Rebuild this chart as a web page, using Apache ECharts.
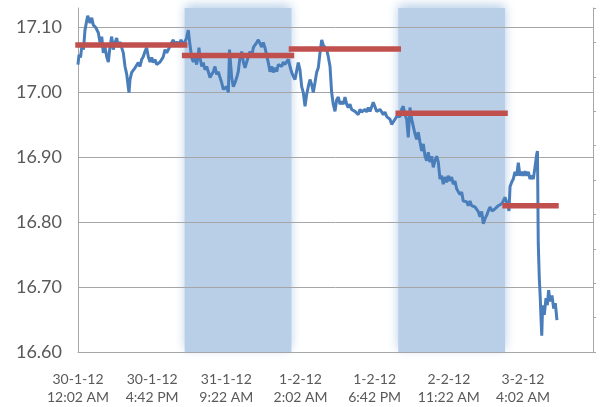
<!DOCTYPE html>
<html>
<head>
<meta charset="utf-8">
<script src="https://cdn.jsdelivr.net/npm/echarts@6/dist/echarts.min.js"></script>
<style>
html,body{margin:0;padding:0;background:#fff;}
#chart{width:603px;height:407px;}
</style>
</head>
<body>
<div id="chart"></div>
<script>
// x = minutes since 30-1-12 12:02 AM (one category per minute)
const tickDates = ["30-1-12", "30-1-12", "31-1-12", "1-2-12", "1-2-12", "2-2-12", "3-2-12"];
const tickTimes = ["12:02 AM", "4:42 PM", "9:22 AM", "2:02 AM", "6:42 PM", "11:22 AM", "4:02 AM"];
const tickStep = 1000;
const axisEndMinute = 6944;

// trading days (minute index of start/end), shading and daily average
const dayStart = [0, 1438, 2878, 4318, 5758];
const dayEnd = [1438, 2878, 4318, 5758, 6445];
const dayShaded = [0, 1, 0, 1, 0];
const dailyAvg = [17.072, 17.056, 17.066, 16.967, 16.825];

// price line
const priceMinutes = [0,13,34,54,74,94,115,131,148,162,185,206,239,274,297,320,341,364,387,409,431,454,476,499,522,543,566,589,611,634,657,678,688,701,724,746,769,791,813,836,859,880,903,926,948,971,994,1015,1038,1061,1083,1106,1129,1150,1173,1196,1218,1241,1263,1285,1308,1335,1362,1389,1416,1443,1463,1487,1510,1533,1555,1578,1600,1622,1631,1645,1668,1689,1712,1735,1757,1780,1803,1825,1847,1870,1892,1915,1938,1959,1982,2005,2027,2043,2072,2094,2117,2140,2161,2184,2207,2229,2252,2275,2296,2319,2342,2364,2386,2409,2431,2454,2477,2498,2521,2544,2566,2589,2611,2633,2656,2679,2701,2724,2746,2768,2791,2814,2835,2858,2881,2903,2926,2949,2970,2993,3016,3038,3061,3083,3105,3128,3151,3173,3195,3218,3240,3263,3286,3307,3330,3353,3375,3398,3420,3442,3465,3488,3510,3533,3555,3577,3600,3623,3644,3667,3690,3712,3735,3758,3779,3802,3825,3847,3869,3892,3914,3937,3960,3981,4004,4027,4049,4072,4095,4116,4139,4162,4184,4207,4229,4251,4274,4297,4319,4342,4364,4386,4409,4432,4453,4476,4499,4521,4544,4566,4588,4611,4634,4656,4679,4701,4723,4746,4769,4790,4813,4836,4858,4881,4903,4925,4947,4970,4992,5015,5038,5060,5083,5105,5127,5150,5173,5195,5218,5240,5262,5285,5308,5330,5353,5375,5397,5420,5443,5465,5488,5510,5532,5555,5582,5600,5622,5645,5667,5690,5712,5734,5757,5780,5802,5811,5825,5847,5869,5892,5915,5937,5959,5982,6004,6027,6050,6072,6094,6117,6139,6162,6185,6195,6206,6220,6233,6243,6253,6265,6287,6310,6328,6346,6364,6391,6414,6436,6458];
const priceValues = [17.042,17.057,17.053,17.072,17.065,17.095,17.108,17.117,17.111,17.106,17.114,17.103,17.099,17.091,17.076,17.085,17.060,17.069,17.054,17.046,17.069,17.085,17.065,17.076,17.083,17.069,17.077,17.076,17.060,17.039,17.027,17.007,16.999,17.019,17.030,17.031,17.037,17.034,17.045,17.039,17.050,17.054,17.062,17.068,17.054,17.046,17.053,17.045,17.050,17.042,17.039,17.046,17.050,17.054,17.065,17.060,17.065,17.062,17.076,17.080,17.072,17.077,17.072,17.080,17.074,17.077,17.083,17.095,17.072,17.053,17.046,17.053,17.042,17.057,17.068,17.053,17.039,17.045,17.034,17.039,17.031,17.022,17.027,17.031,17.039,17.027,17.031,17.022,17.014,17.004,17.007,17.008,16.999,17.065,17.022,17.008,17.014,17.022,17.031,17.053,17.062,17.046,17.037,17.046,17.054,17.062,17.054,17.068,17.072,17.076,17.080,17.077,17.069,17.076,17.068,17.068,17.045,17.031,17.039,17.030,17.037,17.031,17.042,17.045,17.039,17.046,17.042,17.045,17.050,17.039,17.030,17.024,17.019,17.016,17.045,17.034,17.008,16.999,16.978,16.996,17.008,17.019,17.011,16.999,17.014,17.030,17.037,17.060,17.080,17.072,17.072,17.065,17.054,17.039,16.999,16.981,16.970,16.988,16.992,16.981,16.985,16.981,16.992,16.981,16.976,16.981,16.973,16.976,16.970,16.973,16.965,16.973,16.969,16.969,16.973,16.969,16.976,16.970,16.973,16.984,16.985,16.970,16.969,16.973,16.969,16.965,16.969,16.962,16.965,16.958,16.950,16.953,16.958,16.962,16.961,16.962,16.973,16.978,16.965,16.958,16.930,16.976,16.958,16.947,16.935,16.927,16.938,16.923,16.909,16.920,16.901,16.894,16.907,16.892,16.901,16.884,16.894,16.901,16.892,16.866,16.871,16.858,16.869,16.861,16.871,16.863,16.869,16.858,16.863,16.851,16.851,16.842,16.846,16.832,16.835,16.831,16.825,16.832,16.825,16.828,16.823,16.825,16.816,16.808,16.816,16.797,16.805,16.810,16.817,16.823,16.817,16.816,16.820,16.817,16.825,16.823,16.828,16.832,16.838,16.835,16.823,16.817,16.854,16.861,16.866,16.877,16.871,16.891,16.871,16.877,16.871,16.878,16.871,16.877,16.866,16.871,16.866,16.884,16.904,16.909,16.767,16.713,16.683,16.652,16.625,16.672,16.657,16.683,16.672,16.695,16.678,16.687,16.667,16.675,16.649];

const yMin = 16.6, yMax = 17.129, yStep = 0.1;

const FONT = 'Lato, "Noto Sans", sans-serif';
const GRID_GRAY = '#a6a6a6';
const TEXT_GRAY = '#595959';

const priceData = priceMinutes.map((m, i) => [m, priceValues[i]]);
const avgData = [];
dailyAvg.forEach((v, i) => {
  avgData.push([dayStart[i], v], [dayEnd[i], v]);
  if (i < dailyAvg.length - 1) avgData.push([dayEnd[i], null]);
});
const bandData = [];
dayShaded.forEach((s, i) => { if (s) bandData.push([dayStart[i], dayEnd[i], 1]); });

const chart = echarts.init(document.getElementById('chart'), null, {renderer: 'canvas'});
chart.setOption({
  animation: false,
  backgroundColor: '#ffffff',
  grid: {left: 78, right: 10, top: 8, bottom: 53, containLabel: false},
  xAxis: {
    type: 'value', min: 0, max: axisEndMinute, interval: tickStep,
    axisLine: {show: true, lineStyle: {color: GRID_GRAY, width: 1}},
    axisTick: {show: false},
    splitLine: {show: false},
    axisLabel: {
      showMaxLabel: false,
      margin: 18,
      color: TEXT_GRAY, fontFamily: FONT, fontSize: 14, lineHeight: 18.5,
      formatter: v => {
        const k = Math.round(v / tickStep);
        if (Math.abs(v - k * tickStep) > 1e-6 || k >= tickDates.length) return '';
        return tickDates[k] + '\n' + tickTimes[k];
      }
    },
    z: 3
  },
  yAxis: [{
    type: 'value', min: yMin, max: yMax, interval: yStep,
    axisLine: {show: true, lineStyle: {color: GRID_GRAY, width: 1}},
    axisTick: {show: false},
    splitLine: {show: true, showMaxLine: false, lineStyle: {color: GRID_GRAY, width: 1}},
    axisLabel: {
      showMaxLabel: false, margin: 16,
      color: TEXT_GRAY, fontFamily: FONT, fontSize: 18,
      formatter: v => {
        const k = Math.round((v - yMin) / yStep);
        if (Math.abs(v - (yMin + k * yStep)) > 1e-6) return '';
        return v.toFixed(2);
      }
    },
    z: 3
  }, {
    type: 'value', min: 0, max: 1, interval: 0.1, position: 'right',
    axisLine: {show: true, lineStyle: {color: GRID_GRAY, width: 1}},
    axisTick: {show: true, inside: false, length: 3, lineStyle: {color: GRID_GRAY}},
    axisLabel: {show: false},
    splitLine: {show: false},
    z: 3
  }],
  series: [{
    type: 'custom',
    yAxisIndex: 1,
    z: 1,
    silent: true,
    data: bandData,
    encode: {x: [0, 1], y: 2},
    renderItem: (params, api) => {
      const p0 = api.coord([api.value(0), api.value(2)]);
      const p1 = api.coord([api.value(1), 0]);
      return {
        type: 'rect',
        shape: {x: p0[0], y: p0[1], width: p1[0] - p0[0], height: p1[1] - p0[1]},
        style: {fill: '#b9cfe8', shadowBlur: 10, shadowColor: '#b9cfe8', shadowOffsetY: -3}
      };
    }
  }, {
    type: 'line',
    data: priceData,
    showSymbol: false,
    z: 5,
    lineStyle: {color: '#4a7ebb', width: 3},
    itemStyle: {color: '#4a7ebb'}
  }, {
    type: 'line',
    data: avgData,
    showSymbol: false,
    connectNulls: false,
    z: 6,
    lineStyle: {color: '#c0504d', width: 5.5, cap: 'square'},
    itemStyle: {color: '#c0504d'}
  }]
});
</script>
</body>
</html>
